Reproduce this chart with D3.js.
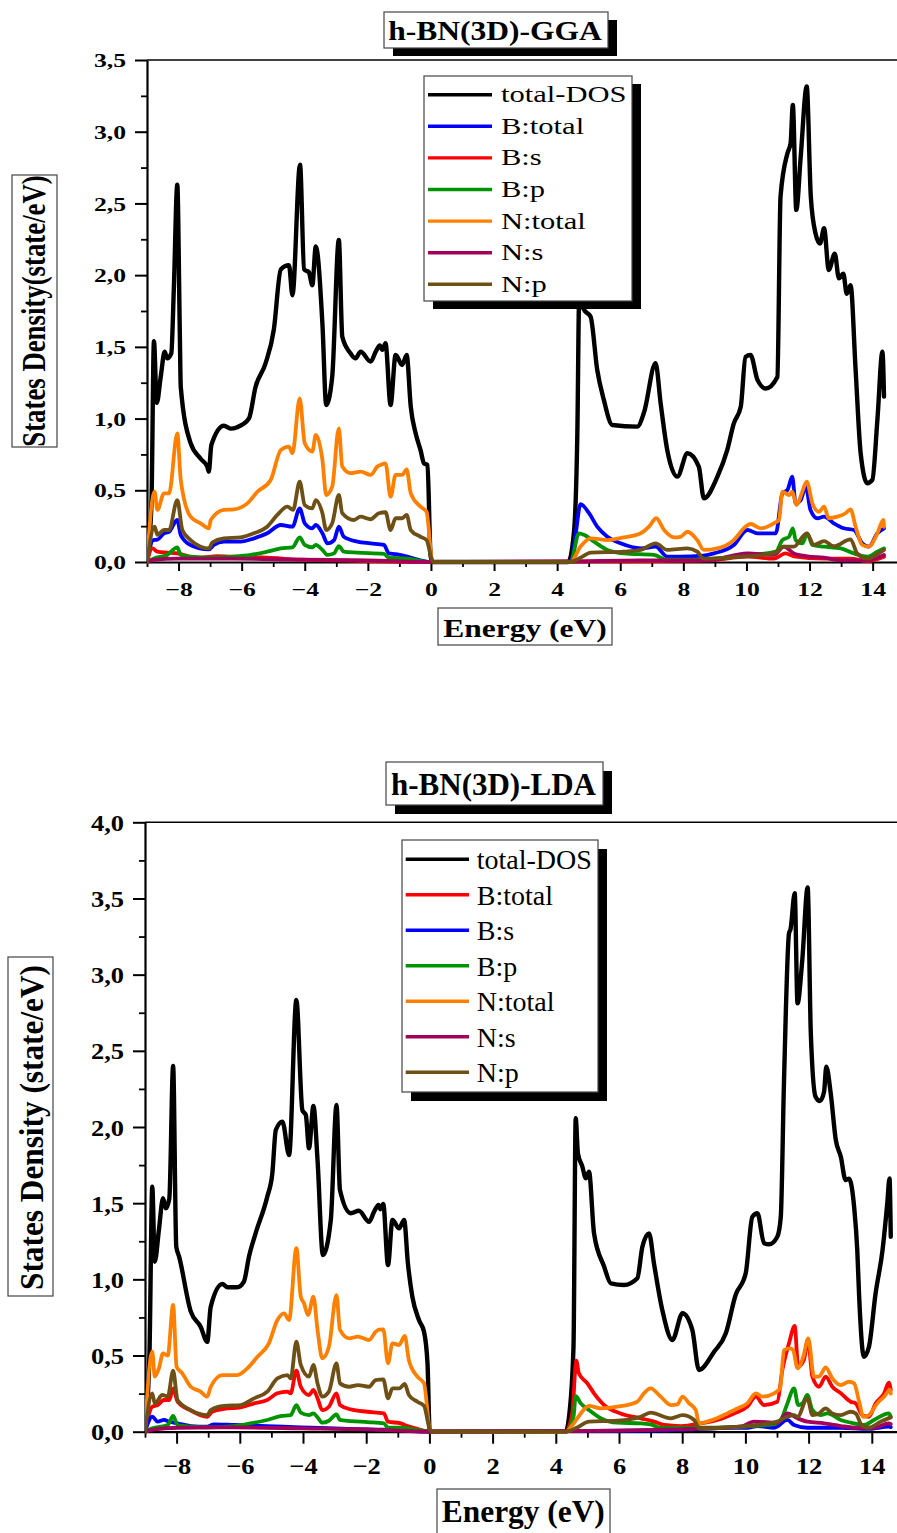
<!DOCTYPE html>
<html><head><meta charset="utf-8">
<script src="https://cdn.jsdelivr.net/npm/d3@7"></script>
<style>html,body{margin:0;padding:0;background:#fff;}svg{display:block;}</style>
</head><body>
<script>
// ---------------- DATA ----------------
const seriesNamesGGA = ["total-DOS","B:total","B:s","B:p","N:total","N:s","N:p"];
const seriesNamesLDA = ["total-DOS","B:total","B:s","B:p","N:total","N:s","N:p"];
const yTicksGGA = [0,0.5,1,1.5,2,2.5,3,3.5];
const yTicksLDA = [0,0.5,1,1.5,2,2.5,3,3.5,4];
const xTicks = [-8,-6,-4,-2,0,2,4,6,8,10,12,14];

// GGA (top) : [energy eV, DOS]
const ggaTotal = [[-9,0],[-8.86,0.4],[-8.78,1.54],[-8.69,1.11],[-8.56,1.3],[-8.44,1.467],[-8.36,1.42],[-8.23,1.455],[-8.15,1.9],[-8.04,2.63],[-7.96,1.6],[-7.93,1.22],[-7.62,0.83],[-7.3,0.72],[-7.09,0.665],[-7.04,0.63],[-6.96,0.816],[-6.56,0.95],[-6.35,0.93],[-6.14,0.94],[-5.77,1.0],[-5.56,1.22],[-5.24,1.386],[-4.98,1.62],[-4.76,2.04],[-4.5,2.07],[-4.39,1.86],[-4.15,2.77],[-4.02,2.04],[-3.87,2.02],[-3.76,1.93],[-3.65,2.2],[-3.44,1.66],[-3.32,1.095],[-3.13,1.29],[-2.92,2.245],[-2.81,1.57],[-2.55,1.455],[-2.39,1.42],[-2.23,1.467],[-1.91,1.397],[-1.75,1.467],[-1.62,1.51],[-1.54,1.48],[-1.44,1.525],[-1.28,1.095],[-1.12,1.443],[-0.91,1.374],[-0.77,1.443],[-0.64,1.083],[-0.485,0.897],[-0.33,0.78],[-0.22,0.688],[-0.11,0.676],[-0.01,0.04],[0.05,0],[4.35,0],[4.53,0.2],[4.64,0.9],[4.7,1.85],[4.82,1.77],[4.9,1.745],[5.06,1.71],[5.27,1.34],[5.48,1.13],[5.75,0.955],[6.54,0.944],[6.75,1.04],[7.12,1.386],[7.28,1.107],[7.49,0.78],[7.81,0.595],[8.13,0.758],[8.49,0.665],[8.65,0.444],[9.08,0.595],[9.39,0.78],[9.6,0.967],[9.82,1.083],[9.97,1.43],[10.13,1.443],[10.35,1.27],[10.61,1.21],[10.98,1.29],[11.08,2.547],[11.3,2.85],[11.4,2.92],[11.47,3.187],[11.58,2.455],[11.72,2.826],[11.91,3.315],[12.04,2.547],[12.19,2.29],[12.33,2.22],[12.46,2.327],[12.61,2.036],[12.8,2.15],[12.93,1.978],[13.07,2.01],[13.18,1.87],[13.3,1.93],[13.46,1.34],[13.62,0.758],[13.83,0.549],[13.99,0.572],[14.15,0.99],[14.31,1.467],[14.36,1.153]];
const ggaBtotal = [[-9,0],[-8.8,0.153],[-8.67,0.156],[-8.46,0.2],[-8.3,0.21],[-8.04,0.293],[-7.93,0.188],[-7.62,0.119],[-7.04,0.088],[-6.88,0.119],[-6.56,0.142],[-6.03,0.142],[-5.61,0.165],[-5.19,0.2],[-4.76,0.258],[-4.39,0.246],[-4.16,0.374],[-4.0,0.27],[-3.76,0.235],[-3.65,0.258],[-3.44,0.2],[-3.28,0.13],[-3.07,0.153],[-2.92,0.246],[-2.76,0.176],[-2.33,0.142],[-1.91,0.13],[-1.49,0.119],[-1.33,0.06],[-1.12,0.055],[-0.75,0.037],[-0.33,0.012],[0.0,0],[4.43,0],[4.59,0.2],[4.74,0.404],[5.01,0.34],[5.27,0.246],[5.59,0.176],[6.01,0.13],[6.65,0.095],[7.12,0.107],[7.49,0.037],[7.91,0.037],[8.55,0.042],[8.97,0.06],[9.6,0.119],[10.03,0.223],[10.35,0.2],[10.93,0.2],[11.14,0.479],[11.3,0.502],[11.45,0.595],[11.56,0.409],[11.72,0.432],[11.88,0.525],[12.03,0.363],[12.25,0.305],[12.46,0.316],[12.77,0.27],[13.09,0.235],[13.41,0.223],[13.67,0.13],[13.88,0.107],[14.15,0.2],[14.36,0.235]];
const ggaBs = [[-9,0],[-8.83,0.095],[-8.67,0.072],[-8.36,0.065],[-8.04,0.06],[-7.7,0.04],[-7.3,0.03],[-6.77,0.04],[-6.24,0.037],[-5.19,0.03],[-4.13,0.016],[-3.07,0.012],[-2.02,0.007],[0,0],[4.53,0.003],[8.76,0.012],[10.03,0.037],[10.87,0.023],[11.24,0.06],[11.5,0.04],[12.46,0.023],[13.3,0.023],[13.83,0.007],[14.36,0.037]];
const ggaBp = [[-9,0],[-8.78,0.025],[-8.36,0.049],[-8.04,0.102],[-7.93,0.049],[-7.62,0.037],[-7.04,0.03],[-6.24,0.037],[-5.71,0.049],[-5.19,0.072],[-4.76,0.095],[-4.39,0.102],[-4.16,0.172],[-4.0,0.119],[-3.76,0.102],[-3.65,0.119],[-3.44,0.084],[-3.28,0.049],[-3.07,0.06],[-2.92,0.111],[-2.76,0.072],[-2.33,0.065],[-1.49,0.056],[-1.33,0.03],[-0.75,0.023],[0,0],[4.43,0],[4.69,0.2],[4.85,0.19],[5.17,0.142],[5.59,0.084],[6.12,0.06],[7.07,0.049],[7.49,0.016],[8.55,0.016],[9.82,0.042],[10.93,0.072],[11.14,0.153],[11.35,0.176],[11.47,0.235],[11.56,0.153],[11.77,0.13],[11.93,0.2],[12.09,0.119],[12.46,0.107],[12.99,0.095],[13.41,0.06],[13.83,0.037],[14.15,0.072],[14.36,0.095]];
const ggaNtotal = [[-9,0],[-8.76,0.49],[-8.67,0.363],[-8.46,0.479],[-8.3,0.479],[-8.04,0.897],[-7.93,0.572],[-7.62,0.316],[-7.3,0.27],[-7.04,0.235],[-6.98,0.293],[-6.56,0.363],[-6.24,0.367],[-5.82,0.409],[-5.5,0.49],[-5.08,0.572],[-4.76,0.78],[-4.5,0.804],[-4.39,0.758],[-4.16,1.14],[-4.0,0.828],[-3.76,0.77],[-3.65,0.886],[-3.44,0.711],[-3.32,0.467],[-3.13,0.525],[-2.92,0.932],[-2.81,0.665],[-2.55,0.619],[-2.23,0.63],[-1.91,0.607],[-1.7,0.665],[-1.6,0.676],[-1.44,0.688],[-1.28,0.455],[-1.12,0.607],[-0.91,0.607],[-0.77,0.646],[-0.64,0.479],[-0.33,0.386],[-0.14,0.35],[0.04,0.01],[0.1,0],[4.43,0],[4.74,0.107],[5.06,0.165],[5.59,0.153],[6.12,0.172],[6.65,0.2],[6.91,0.246],[7.14,0.305],[7.39,0.223],[7.7,0.172],[7.91,0.176],[8.13,0.211],[8.44,0.153],[8.65,0.084],[9.08,0.095],[9.6,0.153],[9.97,0.246],[10.13,0.265],[10.45,0.235],[10.87,0.27],[11.03,0.293],[11.14,0.49],[11.35,0.467],[11.45,0.49],[11.59,0.397],[11.77,0.49],[11.91,0.56],[12.09,0.409],[12.3,0.35],[12.46,0.386],[12.61,0.305],[12.88,0.316],[13.14,0.34],[13.3,0.367],[13.46,0.246],[13.67,0.119],[13.88,0.107],[14.15,0.2],[14.34,0.293],[14.36,0.245]];
const ggaNs = [[-9,0],[-8.78,0.015],[-8.04,0.023],[-6.24,0.023],[-4.13,0.016],[-2.02,0.012],[0,0],[4.53,0.005],[6.65,0.012],[8.76,0.012],[10.03,0.06],[10.87,0.049],[11.19,0.107],[11.5,0.06],[11.93,0.04],[12.46,0.03],[12.99,0.012],[13.83,0.012],[14.36,0.049]];
const ggaNp = [[-9,0],[-8.76,0.246],[-8.67,0.19],[-8.46,0.223],[-8.3,0.223],[-8.04,0.432],[-7.88,0.223],[-7.62,0.153],[-7.3,0.107],[-7.04,0.095],[-6.93,0.135],[-6.56,0.165],[-6.03,0.172],[-5.61,0.2],[-5.19,0.246],[-4.87,0.328],[-4.55,0.386],[-4.37,0.363],[-4.16,0.56],[-4.0,0.397],[-3.76,0.374],[-3.65,0.432],[-3.44,0.34],[-3.32,0.223],[-3.13,0.27],[-2.92,0.467],[-2.81,0.34],[-2.44,0.293],[-2.23,0.316],[-1.91,0.298],[-1.65,0.34],[-1.44,0.347],[-1.28,0.223],[-1.12,0.305],[-0.91,0.305],[-0.77,0.328],[-0.64,0.223],[-0.33,0.176],[-0.14,0.153],[0.04,0.01],[0.1,0],[4.43,0],[4.74,0.03],[5.06,0.065],[6.12,0.072],[6.65,0.084],[7.12,0.13],[7.49,0.084],[8.13,0.095],[8.44,0.072],[8.65,0.023],[9.82,0.037],[10.87,0.06],[11.19,0.107],[11.5,0.107],[11.91,0.2],[12.14,0.119],[12.46,0.146],[12.77,0.11],[13.3,0.158],[13.51,0.06],[13.83,0.023],[14.15,0.055],[14.36,0.084]];

// LDA (bottom)
const ldaTotal = [[-9,0],[-8.86,0.5],[-8.77,1.608],[-8.69,1.116],[-8.56,1.324],[-8.43,1.532],[-8.34,1.466],[-8.23,1.53],[-8.11,2.4],[-8.01,1.214],[-7.92,1.149],[-7.55,0.788],[-7.24,0.689],[-7.03,0.59],[-6.92,0.82],[-6.55,0.969],[-6.39,0.948],[-6.08,0.948],[-5.87,0.985],[-5.71,1.149],[-5.5,1.302],[-5.13,1.543],[-4.97,1.696],[-4.86,1.98],[-4.65,2.035],[-4.44,1.816],[-4.21,2.834],[-4.02,2.11],[-3.91,2.079],[-3.81,1.86],[-3.67,2.138],[-3.54,1.783],[-3.37,1.16],[-3.12,1.39],[-2.94,2.144],[-2.83,1.586],[-2.49,1.434],[-2.23,1.45],[-1.91,1.378],[-1.75,1.444],[-1.61,1.488],[-1.55,1.46],[-1.46,1.495],[-1.31,1.094],[-1.17,1.39],[-0.96,1.335],[-0.8,1.39],[-0.68,1.105],[-0.54,0.886],[-0.33,0.733],[-0.17,0.656],[-0.06,0.449],[0.01,0],[4.31,0],[4.42,0.1],[4.56,0.558],[4.63,2.057],[4.7,1.827],[4.84,1.74],[4.95,1.663],[5.05,1.707],[5.21,1.302],[5.53,1.083],[5.74,0.974],[6.16,0.963],[6.58,1.007],[6.74,1.214],[6.95,1.302],[7.11,1.1],[7.37,0.799],[7.69,0.602],[8.01,0.777],[8.32,0.668],[8.53,0.405],[9.01,0.525],[9.38,0.646],[9.69,0.897],[10.01,1.04],[10.22,1.411],[10.38,1.434],[10.59,1.237],[10.75,1.23],[11.01,1.28],[11.12,1.411],[11.22,2.287],[11.38,3.271],[11.43,3.3],[11.56,3.534],[11.65,2.812],[11.8,3.096],[11.97,3.573],[12.07,2.615],[12.22,2.199],[12.36,2.17],[12.49,2.232],[12.56,2.396],[12.7,2.221],[12.86,1.915],[13.02,1.805],[13.17,1.652],[13.28,1.66],[13.44,1.477],[13.54,1.193],[13.6,0.886],[13.75,0.492],[13.91,0.558],[14.12,0.908],[14.34,1.193],[14.49,1.5],[14.56,1.663],[14.6,1.28]];
const ldaBtotal = [[-9,0],[-8.77,0.164],[-8.6,0.175],[-8.4,0.208],[-8.23,0.208],[-8.11,0.285],[-7.97,0.197],[-7.55,0.138],[-7.03,0.098],[-6.88,0.131],[-6.5,0.15],[-5.97,0.16],[-5.55,0.186],[-5.13,0.208],[-4.81,0.252],[-4.49,0.263],[-4.39,0.252],[-4.21,0.4],[-4.07,0.295],[-3.81,0.241],[-3.67,0.274],[-3.54,0.219],[-3.39,0.142],[-3.18,0.164],[-2.94,0.252],[-2.83,0.175],[-2.49,0.146],[-1.96,0.131],[-1.44,0.12],[-1.31,0.066],[-0.91,0.055],[-0.69,0.037],[-0.38,0.018],[0,0],[4.31,0],[4.52,0.12],[4.65,0.466],[4.73,0.383],[5.0,0.317],[5.21,0.252],[5.53,0.175],[6.05,0.12],[6.69,0.088],[7.11,0.066],[7.43,0.044],[7.96,0.037],[8.59,0.055],[9.11,0.077],[9.64,0.12],[10.06,0.164],[10.33,0.23],[10.59,0.175],[11.01,0.197],[11.17,0.405],[11.38,0.58],[11.56,0.694],[11.67,0.427],[11.85,0.47],[11.98,0.602],[12.12,0.361],[12.33,0.295],[12.54,0.361],[12.75,0.295],[13.02,0.252],[13.33,0.197],[13.49,0.186],[13.7,0.109],[13.91,0.098],[14.12,0.186],[14.39,0.252],[14.54,0.322],[14.6,0.274]];
const ldaBs = [[-9,0],[-8.77,0.098],[-8.6,0.066],[-8.4,0.077],[-8.23,0.066],[-7.97,0.055],[-7.55,0.037],[-7.03,0.033],[-6.82,0.048],[-6.18,0.044],[-5.13,0.037],[-4.07,0.028],[-3.0,0.022],[-1.96,0.015],[-0.91,0.011],[0,0],[4.57,0.004],[7.75,0.011],[9.64,0.026],[10.06,0.026],[10.38,0.037],[10.91,0.026],[11.33,0.077],[11.54,0.044],[11.96,0.026],[13.02,0.026],[13.86,0.018],[14.54,0.033],[14.6,0.03]];
const ldaBp = [[-9,0],[-8.77,0.022],[-8.28,0.044],[-8.11,0.103],[-7.97,0.044],[-7.55,0.033],[-7.03,0.028],[-6.18,0.037],[-5.66,0.055],[-5.13,0.077],[-4.71,0.103],[-4.39,0.109],[-4.21,0.175],[-4.07,0.125],[-3.81,0.109],[-3.67,0.12],[-3.54,0.094],[-3.39,0.059],[-3.18,0.072],[-2.94,0.114],[-2.83,0.077],[-2.49,0.07],[-1.96,0.063],[-1.44,0.055],[-1.31,0.026],[-0.91,0.026],[-0.38,0.011],[0,0],[4.31,0],[4.56,0.098],[4.63,0.234],[4.79,0.186],[5.05,0.142],[5.42,0.088],[5.95,0.059],[6.69,0.055],[7.0,0.048],[7.32,0.026],[7.96,0.026],[8.8,0.026],[9.85,0.033],[10.91,0.05],[11.12,0.077],[11.33,0.186],[11.54,0.285],[11.67,0.175],[11.81,0.186],[11.96,0.241],[12.12,0.142],[12.38,0.109],[12.59,0.12],[13.02,0.077],[13.44,0.055],[13.75,0.044],[14.07,0.077],[14.54,0.12],[14.6,0.098]];
const ldaNtotal = [[-9,0],[-8.77,0.525],[-8.69,0.361],[-8.56,0.416],[-8.43,0.514],[-8.28,0.5],[-8.11,0.832],[-8.0,0.427],[-7.82,0.383],[-7.55,0.295],[-7.24,0.263],[-7.03,0.23],[-6.92,0.295],[-6.55,0.372],[-6.08,0.372],[-5.76,0.416],[-5.44,0.492],[-5.08,0.58],[-4.81,0.733],[-4.6,0.777],[-4.44,0.733],[-4.21,1.204],[-4.07,0.886],[-3.97,0.843],[-3.84,0.766],[-3.67,0.886],[-3.54,0.668],[-3.39,0.482],[-3.18,0.558],[-2.94,0.897],[-2.83,0.668],[-2.54,0.613],[-2.26,0.624],[-1.91,0.602],[-1.7,0.656],[-1.6,0.67],[-1.46,0.672],[-1.31,0.449],[-1.17,0.58],[-0.96,0.57],[-0.78,0.628],[-0.65,0.471],[-0.38,0.361],[-0.17,0.317],[0.02,0.01],[0.08,0],[4.31,0],[4.57,0.055],[4.79,0.12],[5.05,0.169],[5.42,0.153],[5.95,0.164],[6.58,0.197],[6.79,0.252],[7.0,0.285],[7.32,0.23],[7.64,0.175],[7.85,0.18],[8.01,0.23],[8.22,0.186],[8.43,0.142],[8.53,0.055],[9.01,0.081],[9.43,0.12],[9.75,0.153],[10.06,0.186],[10.33,0.252],[10.54,0.23],[10.91,0.252],[11.1,0.285],[11.22,0.536],[11.41,0.547],[11.51,0.536],[11.65,0.416],[11.83,0.492],[11.99,0.613],[12.17,0.361],[12.33,0.361],[12.54,0.422],[12.75,0.35],[13.02,0.306],[13.28,0.328],[13.44,0.317],[13.6,0.197],[13.73,0.098],[13.91,0.109],[14.17,0.186],[14.39,0.23],[14.58,0.274],[14.6,0.25]];
const ldaNs = [[-9,0],[-8.7,0.015],[-7.97,0.026],[-6.18,0.028],[-4.07,0.022],[-1.96,0.015],[0,0],[4.57,0.004],[7.75,0.015],[9.85,0.033],[10.27,0.066],[11.01,0.059],[11.33,0.12],[11.65,0.088],[11.96,0.066],[12.49,0.055],[13.02,0.037],[13.54,0.026],[14.07,0.026],[14.54,0.055],[14.6,0.05]];
const ldaNp = [[-9,0],[-8.77,0.252],[-8.69,0.186],[-8.45,0.241],[-8.28,0.23],[-8.11,0.4],[-7.97,0.208],[-7.55,0.142],[-7.03,0.109],[-6.92,0.142],[-6.5,0.169],[-5.97,0.175],[-5.55,0.219],[-5.13,0.263],[-4.81,0.35],[-4.49,0.372],[-4.39,0.35],[-4.21,0.591],[-4.07,0.438],[-3.81,0.361],[-3.67,0.438],[-3.54,0.317],[-3.39,0.23],[-3.18,0.263],[-2.94,0.449],[-2.83,0.317],[-2.54,0.295],[-2.26,0.306],[-1.91,0.295],[-1.7,0.339],[-1.46,0.343],[-1.31,0.219],[-1.17,0.284],[-0.96,0.284],[-0.78,0.313],[-0.65,0.241],[-0.38,0.197],[-0.17,0.169],[0.02,0.01],[0.08,0],[4.31,0],[4.68,0.028],[5.05,0.066],[5.95,0.072],[6.69,0.098],[7.0,0.125],[7.64,0.088],[8.01,0.109],[8.38,0.077],[8.53,0.022],[9.33,0.026],[10.38,0.044],[11.01,0.066],[11.33,0.098],[11.54,0.109],[11.65,0.098],[11.96,0.219],[12.12,0.109],[12.33,0.12],[12.54,0.153],[12.75,0.12],[13.02,0.109],[13.33,0.131],[13.49,0.12],[13.7,0.037],[13.91,0.026],[14.28,0.066],[14.6,0.094]];

// ---------------- STYLE ----------------
const C = {black:"#000000", blue:"#0000ff", red:"#ff0000", green:"#009300", orange:"#ff8000", purple:"#a3005c", brown:"#6e5016"};
const colorsGGA = [C.black,C.blue,C.red,C.green,C.orange,C.purple,C.brown];
const colorsLDA = [C.black,C.red,C.blue,C.green,C.orange,C.purple,C.brown];
const SERIF = "'Liberation Serif','Times New Roman',Times,serif";

const W = 897, H = 1533;
const svg = d3.select("body").append("svg").attr("width", W).attr("height", H);

function stext(g, x, y, str, o) {
  return g.append("text")
    .attr("transform", `translate(${x},${y}) scale(${o.sx||1},1)` + (o.rot ? " rotate(-90)" : ""))
    .attr("font-family", SERIF).attr("font-size", o.size)
    .attr("font-weight", o.bold ? "bold" : "normal")
    .attr("text-anchor", o.anchor || "start")
    .attr("fill", "#000").text(str);
}

function drawChart(cfg) {
  const g = svg.append("g");
  const x = d3.scaleLinear().domain([-9, 15]).range([cfg.xL, cfg.xL + 24 * cfg.xu]);
  const y = d3.scaleLinear().domain([0, cfg.yMax]).range([cfg.yB, cfg.yT]);
  const fmt = d => d3.format(".1f")(d).replace(".", ",");

  g.append("line").attr("x1", cfg.xL).attr("x2", W).attr("y1", cfg.yT).attr("y2", cfg.yT)
    .attr("stroke", "#000").attr("stroke-width", 1.6);

  const yMinor = d3.range(0.25, cfg.yMax, 0.5);
  g.append("g").attr("transform", `translate(${cfg.xL},0)`)
    .call(d3.axisLeft(y).tickValues(yMinor).tickSize(cfg.yMinorLen).tickSizeOuter(0).tickFormat(""))
    .call(s => { s.select(".domain").remove(); s.selectAll("line").attr("stroke-width", 1.8); });
  const xMinor = d3.range(-9, 16, 2);
  g.append("g").attr("transform", `translate(0,${cfg.yB})`)
    .call(d3.axisBottom(x).tickValues(xMinor).tickSize(cfg.xMinorLen).tickSizeOuter(0).tickFormat(""))
    .call(s => { s.select(".domain").remove(); s.selectAll("line").attr("stroke-width", 1.8); });

  g.append("g").attr("transform", `translate(${cfg.xL},0)`)
    .call(d3.axisLeft(y).tickValues(cfg.yTicks).tickSize(cfg.yMajorLen).tickSizeOuter(0).tickFormat(fmt))
    .call(s => {
      s.select(".domain").attr("stroke-width", 2.2);
      s.selectAll("line").attr("stroke-width", 2);
      s.selectAll("text").attr("x", 0).attr("dy", "0.35em")
        .attr("transform", `translate(${-cfg.yLabOff},0) scale(${cfg.tickSx},1)`)
        .attr("font-family", SERIF).attr("font-size", cfg.tickSize).attr("font-weight", "bold")
        .attr("fill", "#000");
    });
  g.append("g").attr("transform", `translate(0,${cfg.yB})`)
    .call(d3.axisBottom(x).tickValues(xTicks).tickSize(cfg.xMajorLen).tickSizeOuter(0).tickFormat(d3.format("d")))
    .call(s => {
      s.select(".domain").attr("stroke-width", 2.2);
      s.selectAll("line").attr("stroke-width", 2);
      s.selectAll("text").attr("y", 0).attr("dy", "0.35em")
        .attr("transform", `translate(0,${cfg.xLabOff}) scale(${cfg.tickSx},1)`)
        .attr("font-family", SERIF).attr("font-size", cfg.tickSize).attr("font-weight", "bold")
        .attr("fill", "#000");
    });

  const clipId = "clip" + cfg.id;
  g.append("clipPath").attr("id", clipId).append("rect")
    .attr("x", cfg.xL).attr("y", cfg.yT).attr("width", W - cfg.xL).attr("height", cfg.yB - cfg.yT + 4);
  const line = d3.line().x(d => x(d[0])).y(d => y(d[1])).curve(d3.curveMonotoneX);
  const dg = g.append("g").attr("clip-path", `url(#${clipId})`);
  cfg.series.forEach((s, i) => {
    dg.append("path").datum(s).attr("d", line).attr("fill", "none")
      .attr("stroke", cfg.colors[i]).attr("stroke-width", i === 0 ? 4.4 : 3.8)
      .attr("stroke-linejoin", "round").attr("stroke-linecap", "round");
  });

  const tb = cfg.titleBox;
  g.append("rect").attr("x", tb[0] + cfg.shadow[0]).attr("y", tb[1] + cfg.shadow[1])
    .attr("width", tb[2] - tb[0]).attr("height", tb[3] - tb[1]).attr("fill", "#000");
  g.append("rect").attr("x", tb[0]).attr("y", tb[1]).attr("width", tb[2] - tb[0]).attr("height", tb[3] - tb[1])
    .attr("fill", "#fff").attr("stroke", "#444").attr("stroke-width", 1.2);
  stext(g, cfg.title.x, cfg.title.y, cfg.title.text, {size: cfg.title.size, bold: true, anchor: "middle", sx: cfg.title.sx});

  const lb = cfg.legBox;
  g.append("rect").attr("x", lb[0] + cfg.shadow[0]).attr("y", lb[1] + cfg.shadow[1])
    .attr("width", lb[2] - lb[0]).attr("height", lb[3] - lb[1]).attr("fill", "#000");
  g.append("rect").attr("x", lb[0]).attr("y", lb[1]).attr("width", lb[2] - lb[0]).attr("height", lb[3] - lb[1])
    .attr("fill", "#fff").attr("stroke", "#444").attr("stroke-width", 1.2);
  cfg.names.forEach((n, i) => {
    const ly = cfg.leg.y0 + i * cfg.leg.dy;
    g.append("line").attr("x1", cfg.leg.x1).attr("x2", cfg.leg.x2).attr("y1", ly).attr("y2", ly)
      .attr("stroke", cfg.colors[i]).attr("stroke-width", 3.4);
    stext(g, cfg.leg.tx, ly + cfg.leg.base, n, {size: cfg.leg.size, sx: cfg.leg.sx});
  });

  const yb = cfg.yLabBox;
  g.append("rect").attr("x", yb[0]).attr("y", yb[1]).attr("width", yb[2] - yb[0]).attr("height", yb[3] - yb[1])
    .attr("fill", "#fff").attr("stroke", "#444").attr("stroke-width", 1.2);
  stext(g, cfg.yLab.x, cfg.yLab.y, cfg.yLab.text, {size: cfg.yLab.size, bold: true, anchor: "middle", sx: cfg.yLab.sx, rot: true});

  const xb = cfg.xLabBox;
  g.append("rect").attr("x", xb[0]).attr("y", xb[1]).attr("width", xb[2] - xb[0]).attr("height", xb[3] - xb[1])
    .attr("fill", "#fff").attr("stroke", "#444").attr("stroke-width", 1.2);
  stext(g, cfg.xLab.x, cfg.xLab.y, "Energy (eV)", {size: cfg.xLab.size, bold: true, anchor: "middle", sx: cfg.xLab.sx});
}

drawChart({
  id: "gga", xL: 147, xu: 31.55, yB: 562, yT: 60, yMax: 3.5, yTicks: yTicksGGA,
  yMajorLen: 12, yMinorLen: 6, xMajorLen: 9, xMinorLen: 5,
  tickSize: 19, tickSx: 1.35, yLabOff: 21, xLabOff: 27,
  series: [ggaTotal, ggaBtotal, ggaBs, ggaBp, ggaNtotal, ggaNs, ggaNp],
  colors: colorsGGA, names: seriesNamesGGA,
  shadow: [9, 8],
  titleBox: [384, 12, 608, 48], title: {x: 495, y: 40, text: "h-BN(3D)-GGA", size: 26.5, sx: 1.19},
  legBox: [424, 76, 632, 301], leg: {y0: 94.7, dy: 31.6, x1: 428, x2: 492, tx: 501, base: 7.5, size: 23.5, sx: 1.3},
  yLabBox: [12, 175, 57, 447], yLab: {x: 45, y: 311, text: "States Density(state/eV)", size: 26.8, sx: 1.22},
  xLabBox: [438, 608, 612, 645], xLab: {x: 525, y: 636.7, size: 25, sx: 1.26}
});

drawChart({
  id: "lda", xL: 145, xu: 31.6, yB: 1431.7, yT: 822.3, yMax: 4, yTicks: yTicksLDA,
  yMajorLen: 12, yMinorLen: 6, xMajorLen: 12, xMinorLen: 6,
  tickSize: 23, tickSx: 1.15, yLabOff: 21, xLabOff: 34,
  series: [ldaTotal, ldaBtotal, ldaBs, ldaBp, ldaNtotal, ldaNs, ldaNp],
  colors: colorsLDA, names: seriesNamesLDA,
  shadow: [9, 9],
  titleBox: [386, 762, 603, 805], title: {x: 493.5, y: 795, text: "h-BN(3D)-LDA", size: 31, sx: 1.0},
  legBox: [402, 840, 598, 1092], leg: {y0: 859.3, dy: 35.5, x1: 405.7, x2: 469, tx: 476.7, base: 10, size: 28, sx: 1.0},
  yLabBox: [8, 957, 53, 1296], yLab: {x: 43, y: 1127.5, text: "States Density (state/eV)", size: 31.3, sx: 1.05},
  xLabBox: [437, 1489, 610, 1545], xLab: {x: 523.3, y: 1521.7, size: 31.4, sx: 1.0}
});
</script>
</body></html>
